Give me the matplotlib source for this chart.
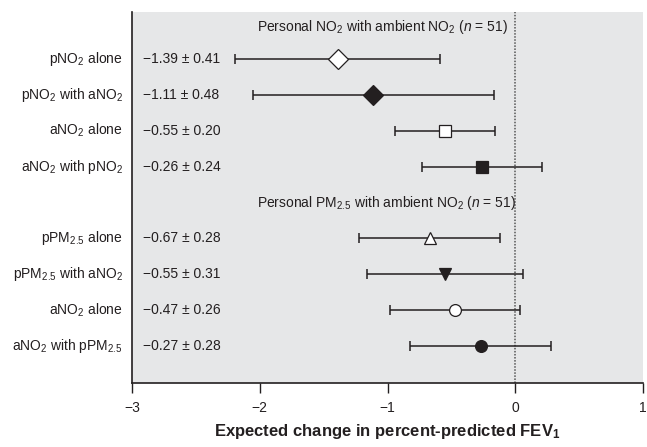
import matplotlib.pyplot as plt
from matplotlib import font_manager

# data
labels = ['pNO$_2$ alone', 'pNO$_2$ with aNO$_2$', 'aNO$_2$ alone', 'aNO$_2$ with pNO$_2$',
          'pPM$_{2.5}$ alone', 'pPM$_{2.5}$ with aNO$_2$', 'aNO$_2$ alone', 'aNO$_2$ with pPM$_{2.5}$']
est_text = ['\u22121.39 \u00b1 0.41', '\u22121.11 \u00b1 0.48', '\u22120.55 \u00b1 0.20', '\u22120.26 \u00b1 0.24',
            '\u22120.67 \u00b1 0.28', '\u22120.55 \u00b1 0.31', '\u22120.47 \u00b1 0.26', '\u22120.27 \u00b1 0.28']
estimate = [-1.39, -1.11, -0.55, -0.26, -0.67, -0.55, -0.47, -0.27]
lower = [-2.19, -2.05, -0.94, -0.73, -1.22, -1.16, -0.98, -0.82]
upper = [-0.59, -0.17, -0.16, 0.21, -0.12, 0.06, 0.04, 0.28]
rows = [1, 2, 3, 4, 6, 7, 8, 9]
headers = ['Personal NO$_2$ with ambient NO$_2$ ($n$ = 51)',
           'Personal PM$_{2.5}$ with ambient NO$_2$ ($n$ = 51)']
header_rows = [0.11, 5.0]
markers = ['D', 'D', 's', 's', '^', 'v', 'o', 'o']
filled = [False, True, False, True, False, True, False, True]

names = {f.name for f in font_manager.fontManager.ttflist}
family = 'Liberation Sans Narrow' if 'Liberation Sans Narrow' in names else 'Liberation Sans'
plt.rcParams['font.family'] = [family, 'DejaVu Sans']
plt.rcParams['mathtext.fontset'] = 'custom'
plt.rcParams['mathtext.rm'] = family
plt.rcParams['mathtext.it'] = family + ':italic'
plt.rcParams['mathtext.bf'] = family + ':bold'

ink = '#231f20'
fs = 10
fig = plt.figure(figsize=(6.47, 4.47), dpi=100)
ax = fig.add_axes([132 / 647, 1 - 383 / 447, 1 - 136 / 647, 371 / 447])
ax.set_facecolor('#e6e7e8')

ax.axvline(0, color='#555555', linestyle=(0, (1.0, 1.0)), linewidth=1.1, zorder=1)

for i in range(len(rows)):
    y = rows[i]
    ax.errorbar(estimate[i], y, xerr=[[estimate[i] - lower[i]], [upper[i] - estimate[i]]],
                fmt='none', ecolor=ink, elinewidth=1.1, capsize=3.5, capthick=1.1, zorder=2)
    ms = 10 if markers[i] == 'D' else 8.5
    ax.plot(estimate[i], y, marker=markers[i], markersize=ms, linestyle='none',
            markerfacecolor=ink if filled[i] else 'white', markeredgecolor=ink,
            markeredgewidth=0.9, zorder=3)
    ax.text(-2.915, y, est_text[i], ha='left', va='center', fontsize=fs, color=ink)
    ax.text(-3.07, y, labels[i], ha='right', va='center', fontsize=fs, color=ink, clip_on=False)

for h, y in zip(headers, header_rows):
    ax.text(-2.02, y, h, ha='left', va='center', fontsize=fs, color=ink)

ax.set_xlim(-3, 1)
ax.set_ylim(10.03, -0.31)
ax.set_yticks([])
ax.set_xticks([-3, -2, -1, 0, 1])
ax.set_xticklabels(['\u22123', '\u22122', '\u22121', '0', '1'])
ax.tick_params(axis='x', direction='out', length=7, width=1, colors=ink, labelsize=fs, pad=6)
for s in ['top', 'right']:
    ax.spines[s].set_visible(False)
for s in ['left', 'bottom']:
    ax.spines[s].set_color(ink)
    ax.spines[s].set_linewidth(1.2)

ax.set_xlabel('Expected change in percent-predicted FEV$_\\mathbf{1}$', fontsize=12,
              fontweight='bold', color=ink, labelpad=5)

fig.savefig('out.png', dpi=100)
